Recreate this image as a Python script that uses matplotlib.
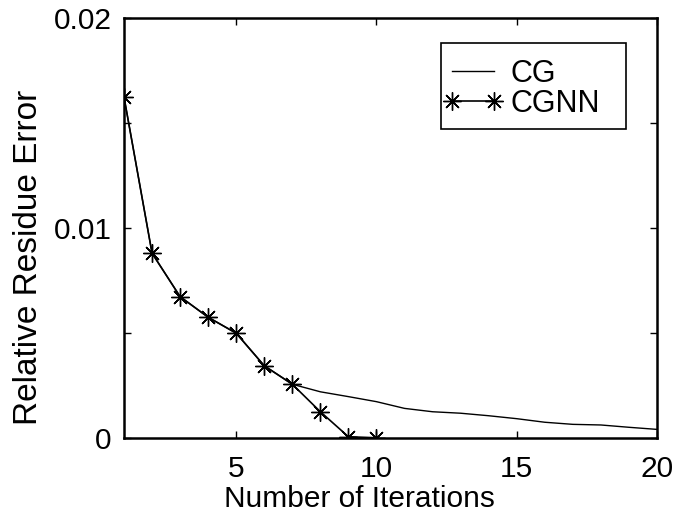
import matplotlib
matplotlib.use("Agg")
import matplotlib.pyplot as plt
from matplotlib.ticker import MultipleLocator, FixedLocator
from matplotlib.patches import Rectangle

plt.rcParams['font.family'] = ['Liberation Sans', 'DejaVu Sans']

iters_cg = list(range(1, 21))
cg = [0.01624, 0.0088, 0.00673, 0.00575, 0.00499, 0.00344, 0.00256,
      0.0022, 0.00197, 0.00173, 0.00141, 0.00125, 0.00118, 0.00106,
      0.00092, 0.00075, 0.00065, 0.00062, 0.00051, 0.00041]
iters_cgnn = list(range(1, 11))
cgnn = [0.01624, 0.0088, 0.00673, 0.00575, 0.00499, 0.00344, 0.00256,
        0.00125, 0.00006, 0.00001]

xticks = [5, 10, 15, 20]
yticks = [0, 0.01, 0.02]
ytick_labels = ['0', '0.01', '0.02']

W, H = 679, 518
fig = plt.figure(figsize=(W/100, H/100), dpi=100)
ax = fig.add_axes([124/W, 1-438/H, (657-124)/W, (438-18)/H])

ast = (8, 2, 0)
ax.plot(iters_cg, cg, color='black', lw=1.0, label='CG')
ax.plot(iters_cgnn, cgnn, color='black', lw=1.2, marker=ast, ms=13,
        mew=1.0, label='CGNN')

ax.set_xlim(1, 20)
ax.set_ylim(0, 0.02)
ax.xaxis.set_major_locator(FixedLocator(xticks))
ax.set_yticks(yticks)
ax.set_yticklabels(ytick_labels)
ax.yaxis.set_minor_locator(MultipleLocator(0.005))
ax.tick_params(which='both', direction='in', top=True, right=True,
               labelsize=21.5, width=1.0, color='black', length=5)
ax.tick_params(axis='x', pad=12)
ax.tick_params(axis='y', pad=9)
for s in ax.spines.values():
    s.set_linewidth(1.8)

ax.set_xlabel('Number of Iterations', fontsize=21.5)
ax.xaxis.set_label_coords(0.442, (438-485)/420)
ax.set_ylabel('Relative Residue Error', fontsize=24)
ax.yaxis.set_label_coords((44-124)/533, (438-257.5)/420)

# legend frame (MATLAB style box)
frame = Rectangle((441/W, 1-129/H), 185/W, 86/H, transform=fig.transFigure,
                  facecolor='white', edgecolor='black', linewidth=1.2,
                  zorder=4, clip_on=False)
ax.add_patch(frame)

leg = ax.legend(loc='upper left',
                bbox_to_anchor=(441/W, 1-56.5/H),
                bbox_transform=fig.transFigure,
                fontsize=22, frameon=False, numpoints=2,
                handlelength=1.96, handletextpad=0.23, borderpad=0.07,
                labelspacing=0.0, borderaxespad=0)
leg.set_zorder(5)

fig.savefig('out.png', dpi=100)
